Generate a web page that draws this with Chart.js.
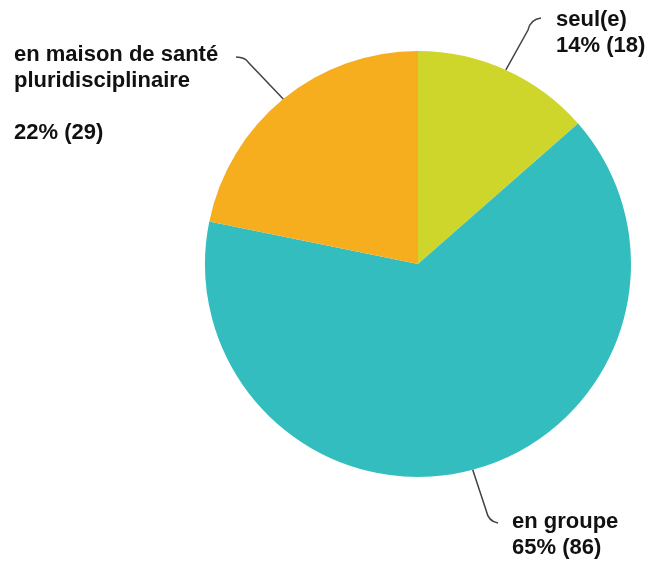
<!DOCTYPE html>
<html>
<head>
<meta charset="utf-8">
<script src="https://cdn.jsdelivr.net/npm/chart.js@4/dist/chart.umd.min.js"></script>
<style>
  html, body { margin: 0; padding: 0; background: #fff; }
  #wrap { width: 651px; height: 564px; }
</style>
</head>
<body>
<div id="wrap"><canvas id="myPieChart" width="651" height="564"></canvas></div>
<script>
// Données du graphique
const categories = ['seul(e)', 'en groupe', 'en maison de santé pluridisciplinaire'];
const effectifs = [18, 86, 29];
const pourcentages = [14, 65, 22];
const couleurs = ['#cfd62b', '#34bdbe', '#f6ae1f'];

// Lignes de texte des étiquettes (le '' fait une ligne vide)
const etiquettes = [
    ['seul(e)', pourcentages[0] + '% (' + effectifs[0] + ')'],
    ['en groupe', pourcentages[1] + '% (' + effectifs[1] + ')'],
    ['en maison de santé', 'pluridisciplinaire', '', pourcentages[2] + '% (' + effectifs[2] + ')']
];

// Position des étiquettes et coude des lignes de rappel
const placements = [
    { x: 556, y: 20, coude: [528, 30], fin: [541, 18] },
    { x: 512, y: 522, coude: [486, 510], fin: [498, 523] },
    { x: 14, y: 55, coude: [248, 62], fin: [236, 57] }
];

const etiquettesPlugin = {
    id: 'etiquettes',
    afterDraw(chart) {
        const ctx = chart.ctx;
        const arcs = chart.getDatasetMeta(0).data;
        ctx.save();
        arcs.forEach((arc, i) => {
            const p = placements[i];
            const { x, y, startAngle, endAngle, outerRadius } = arc.getProps(['x', 'y', 'startAngle', 'endAngle', 'outerRadius'], true);
            const mid = (startAngle + endAngle) / 2;
            const sx = x + Math.cos(mid) * outerRadius;
            const sy = y + Math.sin(mid) * outerRadius;
            // Ligne de rappel
            ctx.strokeStyle = '#444';
            ctx.lineWidth = 1.5;
            ctx.beginPath();
            ctx.moveTo(sx, sy);
            ctx.lineTo(p.coude[0], p.coude[1]);
            ctx.quadraticCurveTo(
                p.coude[0] + (p.fin[0] - p.coude[0]) * 0.2, p.fin[1] + (p.coude[1] - p.fin[1]) * 0.1,
                p.fin[0], p.fin[1]);
            ctx.stroke();
            // Texte
            ctx.fillStyle = '#111';
            ctx.font = 'bold 22px "Liberation Sans", Arial, sans-serif';
            ctx.textBaseline = 'middle';
            ctx.textAlign = 'left';
            etiquettes[i].forEach((ligne, j) => {
                if (ligne) ctx.fillText(ligne, p.x, p.y + j * 26);
            });
        });
        ctx.restore();
    }
};

const ctx = document.getElementById('myPieChart').getContext('2d');
const config = {
    type: 'pie',
    data: {
        labels: categories,
        datasets: [{
            data: effectifs,
            backgroundColor: couleurs,
            borderWidth: 0
        }]
    },
    plugins: [etiquettesPlugin],
    options: {
        responsive: false,
        animation: false,
        layout: {
            padding: { top: 51, bottom: 87, left: 205, right: 20 }
        },
        plugins: {
            legend: { display: false },
            tooltip: { enabled: false }
        }
    }
};
const myPieChart = new Chart(ctx, config);
</script>
</body>
</html>
